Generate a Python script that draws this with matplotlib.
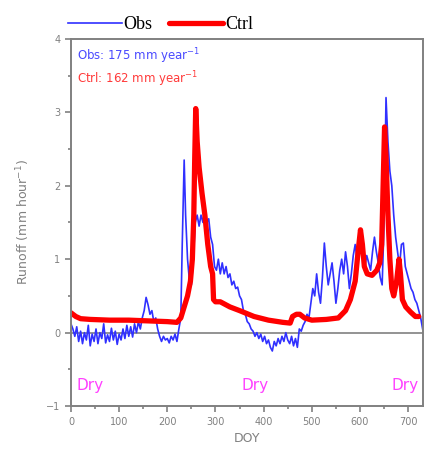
import matplotlib
matplotlib.use("Agg")
from matplotlib import pyplot as plt
from matplotlib.ticker import MultipleLocator
import numpy as np

obs_doy = [0, 4, 8, 12, 16, 20, 24, 28, 32, 36, 40, 44, 48, 52, 56, 60, 64, 68, 72, 76,
           80, 84, 88, 92, 96, 100, 104, 108, 112, 116, 120, 124, 128, 132, 136, 140, 144, 148, 152, 156,
           160, 164, 168, 172, 176, 180, 184, 188, 192, 196, 200, 204, 208, 212, 216, 220, 224, 228, 231, 235,
           238, 242, 246, 250, 254, 258, 262, 266, 270, 274, 278, 282, 286, 290, 294, 298, 302, 306, 310, 314,
           318, 322, 326, 330, 334, 338, 342, 346, 350, 354, 358, 362, 366, 370, 374, 378, 382, 386, 390, 394,
           398, 402, 406, 410, 414, 418, 422, 426, 430, 434, 438, 442, 446, 450, 454, 458, 462, 466, 470, 474,
           478, 482, 486, 490, 494, 498, 502, 506, 510, 514, 518, 522, 526, 530, 534, 538, 542, 546, 550, 554,
           558, 562, 566, 570, 574, 578, 582, 586, 590, 594, 598, 602, 606, 610, 614, 618, 622, 626, 630, 634,
           638, 642, 646, 650, 654, 658, 662, 666, 670, 674, 678, 682, 686, 690, 694, 698, 702, 706, 710, 714,
           718, 722, 726, 730]
obs_runoff = [0.12, 0.05, -0.05, 0.08, -0.12, 0.02, -0.15, 0.0, -0.1, 0.1, -0.18, -0.02, -0.12, 0.05, -0.15, 0.0, -0.08, 0.12, -0.14, -0.03,
              -0.12, 0.06, -0.1, 0.02, -0.16, -0.02, -0.1, 0.05, -0.08, 0.1, -0.05, 0.08, -0.06, 0.12, 0.0, 0.15, 0.05, 0.2, 0.3, 0.48,
              0.38, 0.25, 0.3, 0.15, 0.2, 0.05, -0.05, -0.12, -0.05, -0.1, -0.08, -0.14, -0.05, -0.1, -0.02, -0.12, 0.05, 0.2, 1.2, 2.35,
              1.6, 1.0, 0.7, 0.65, 1.0, 1.5, 1.6, 1.45, 1.6, 1.5, 1.7, 1.5, 1.55, 1.3, 1.2, 0.9, 0.85, 1.0, 0.8, 0.95,
              0.8, 0.9, 0.75, 0.8, 0.65, 0.7, 0.6, 0.62, 0.5, 0.45, 0.3, 0.25, 0.15, 0.12, 0.05, 0.02, -0.05, 0.0, -0.08, -0.02,
              -0.12, -0.05, -0.15, -0.1, -0.2, -0.25, -0.12, -0.18, -0.08, -0.15, -0.05, -0.12, 0.0, -0.1, -0.15, -0.05, -0.18, -0.08, -0.2, 0.05,
              0.02, 0.1, 0.15, 0.25, 0.2, 0.4, 0.6, 0.5, 0.8, 0.55, 0.4, 0.75, 1.22, 0.9, 0.65, 0.8, 0.95, 0.7, 0.4, 0.6,
              0.85, 1.0, 0.8, 1.1, 0.9, 0.6, 0.8, 1.05, 1.2, 1.0, 1.15, 1.2, 1.0, 0.9, 1.05, 0.95, 0.85, 1.1, 1.3, 1.1,
              0.95, 0.75, 0.65, 1.5, 3.2, 2.6, 2.2, 2.0, 1.6, 1.3, 1.1, 0.9, 1.2, 1.22, 0.9, 0.8, 0.7, 0.6, 0.55, 0.45,
              0.4, 0.3, 0.2, 0.05]

# model control run
ctrl_doy = [0, 10, 20, 40, 80, 120, 160, 200, 220, 228, 235, 242, 248, 252, 255, 257, 259, 262, 266, 272,
            278, 284, 290, 294, 296, 300, 310, 330, 350, 380, 410, 440, 455, 460, 468, 475, 485, 500, 530, 555,
            570, 580, 590, 596, 601, 605, 609, 615, 625, 635, 641, 645, 648, 651, 654, 658, 662, 666, 670, 676,
            681, 684, 688, 695, 705, 715, 722]
ctrl_runoff = [0.27, 0.22, 0.19, 0.18, 0.17, 0.17, 0.16, 0.15, 0.14, 0.2, 0.35, 0.5, 0.7, 1.0, 1.6, 2.4, 3.05, 2.6, 2.25, 1.9,
               1.6, 1.2, 0.9, 0.8, 0.45, 0.42, 0.42, 0.35, 0.3, 0.22, 0.17, 0.14, 0.13, 0.22, 0.25, 0.25, 0.2, 0.17, 0.18, 0.2,
               0.3, 0.45, 0.7, 1.1, 1.4, 1.2, 0.9, 0.8, 0.78, 0.85, 0.95, 1.2, 2.0, 2.8, 2.4, 1.6, 1.0, 0.6, 0.5, 0.7,
               1.0, 0.8, 0.45, 0.35, 0.28, 0.22, 0.22]

dry_doy = [12, 355, 665]

grey = '#808080'

fig = plt.figure(figsize=(4.38, 4.62), dpi=100)
ax = fig.add_axes([0.162, 0.121, 0.804, 0.795])

l1, = ax.plot(obs_doy, obs_runoff, color='#3030ff', lw=1.2, label='Obs')
l2, = ax.plot(ctrl_doy, ctrl_runoff, color='#ff0000', lw=3.8, label='Ctrl',
              solid_joinstyle='round', solid_capstyle='round')
ax.axhline(0, color=grey, lw=1.2, zorder=0)

ax.set_xlim(0, 731)
ax.set_ylim(-1, 4)
ax.xaxis.set_major_locator(MultipleLocator(100))
ax.xaxis.set_minor_locator(MultipleLocator(50))
ax.yaxis.set_major_locator(MultipleLocator(1))
ax.yaxis.set_minor_locator(MultipleLocator(0.5))
ax.tick_params(which='both', direction='out', colors=grey, labelsize=7, width=1.2)
ax.tick_params(which='major', length=4)
ax.tick_params(which='minor', length=2.5)
for s in ax.spines.values():
    s.set_color(grey)
    s.set_linewidth(1.4)

ax.set_xlabel('DOY', color=grey, fontsize=9)
ax.set_ylabel('Runoff (mm hour$^{-1}$)', color=grey, fontsize=9, labelpad=10)

ax.text(12, 3.76, 'Obs: 175 mm year$^{-1}$', color='#4a4aff', fontsize=8.5, va='center')
ax.text(12, 3.45, 'Ctrl: 162 mm year$^{-1}$', color='#ff3b3b', fontsize=8.5, va='center')
for d in dry_doy:
    ax.text(d, -0.72, 'Dry', color='#ff40ff', fontsize=11, va='center')

fig.legend(handles=[l1, l2], loc='lower left', bbox_to_anchor=(0.13, 0.905), ncol=2,
           frameon=False, prop={'family': 'Liberation Serif', 'size': 13},
           handlelength=3.0, handletextpad=0.1, columnspacing=0.9, borderpad=0.1)

fig.savefig('out.png', dpi=100)
